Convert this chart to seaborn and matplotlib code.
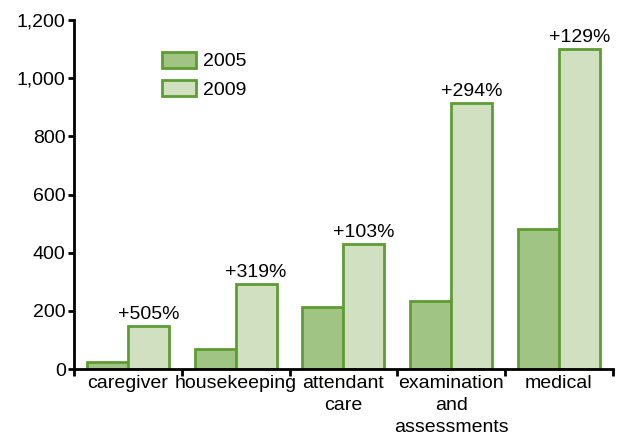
import matplotlib.pyplot as plt
import matplotlib.ticker as mticker
import seaborn as sns
import pandas as pd
import numpy as np

# dados
categorias = ['caregiver', 'housekeeping', 'attendant\ncare',
              'examination\nand\nassessments', 'medical']
anos = ['2005', '2009']
valores_2005 = [24.5, 70, 212, 233, 481]
valores_2009 = [148, 292, 430, 915, 1102]
variacoes = ['+505%', '+319%', '+103%', '+294%', '+129%']

cor_borda = '#5e9c34'
cores = {'2005': '#a0c483', '2009': '#d0e0c0'}

df = pd.DataFrame({
    'categoria': categorias * 2,
    'ano': [anos[0]] * len(categorias) + [anos[1]] * len(categorias),
    'valor': valores_2005 + valores_2009,
})

sns.set_theme(style='white')
plt.rcParams['font.family'] = ['Liberation Sans', 'DejaVu Sans']
plt.rcParams['text.color'] = 'black'
plt.rcParams['xtick.color'] = 'black'
plt.rcParams['ytick.color'] = 'black'

fs = 14

fig = plt.figure(figsize=(6.19, 4.37), dpi=100)
ax = fig.add_axes([0.1196, 0.1556, 0.8704, 0.7984])

sns.barplot(data=df, x='categoria', y='valor', hue='ano', palette=cores,
            edgecolor=cor_borda, linewidth=2, width=0.76, saturation=1,
            ax=ax)

# rotulos de variacao acima das barras de 2009
barras_2009 = ax.containers[1]
for barra, txt in zip(barras_2009, variacoes):
    ax.text(barra.get_x() + barra.get_width() / 2, barra.get_height() + 10,
            txt, ha='center', va='bottom', fontsize=fs)

ax.set_ylim(0, 1200)
ax.set_xlim(-0.5, len(categorias) - 0.5)
ax.yaxis.set_major_locator(mticker.MultipleLocator(200))
ax.yaxis.set_major_formatter(mticker.StrMethodFormatter('{x:,.0f}'))
ax.set_xlabel('')
ax.set_ylabel('')

# ticks nas fronteiras das categorias
ax.set_xticks(range(len(categorias)), labels=categorias, linespacing=1.4)
ax.set_xticks(np.arange(-0.5, len(categorias)), minor=True)
ax.tick_params(axis='x', which='major', length=0, labelsize=fs, pad=4)
ax.tick_params(axis='x', which='minor', length=5, width=2, color='black',
               direction='out', bottom=True)
ax.tick_params(axis='y', length=4, width=2, color='black', direction='out',
               left=True, labelsize=fs, pad=2)

for lado in ['top', 'right']:
    ax.spines[lado].set_visible(False)
for lado in ['left', 'bottom']:
    ax.spines[lado].set_color('black')
    ax.spines[lado].set_linewidth(2)

leg = ax.legend(loc='upper left', bbox_to_anchor=(0.13, 0.96), frameon=False,
                fontsize=fs, handlelength=1.75, handleheight=0.9,
                labelspacing=0.5, handletextpad=0.4)

fig.savefig('out.png', dpi=100)
